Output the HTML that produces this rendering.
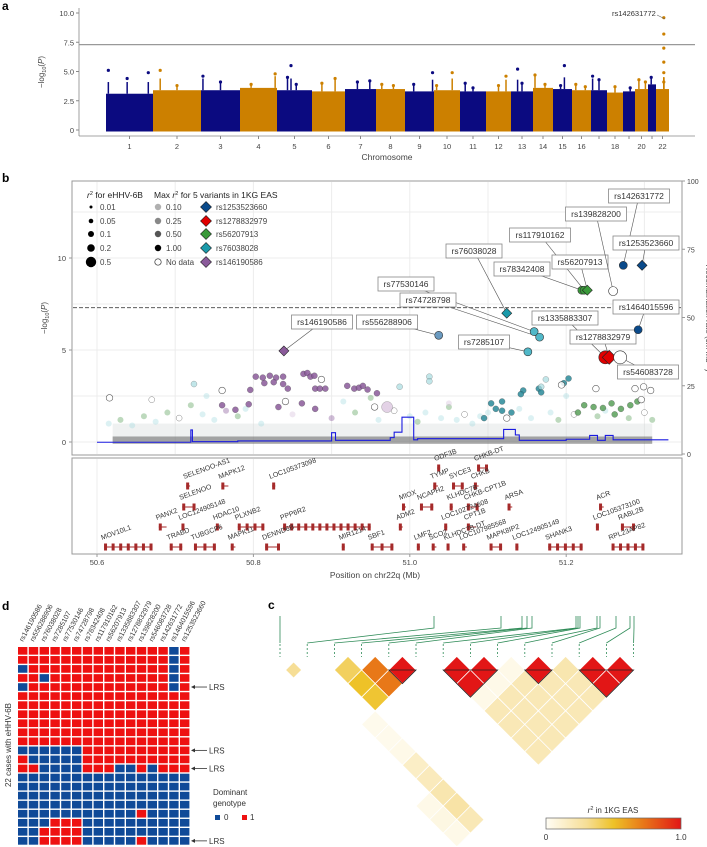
<!DOCTYPE html>
<html><head><meta charset="utf-8"><style>
html,body{margin:0;padding:0;background:#fff;}
svg{display:block;font-family:"Liberation Sans",sans-serif;}
</style></head><body>
<svg id="fig" width="707" height="847" viewBox="0 0 707 847" xmlns="http://www.w3.org/2000/svg"></svg>
<script>
// ---------- Panel a data ----------
const chrBounds = [106,153,201,240,277,312,345,376,405,434,460,486,511,533,553,572,591,607,623,635,648,656,669];
const chrLabels = ["1","2","3","4","5","6","7","8","9","10","11","12","13","14","15","16","","18","","20","","22"];
const chrBase = [3.1,3.4,3.4,3.6,3.4,3.3,3.5,3.5,3.3,3.4,3.3,3.3,3.3,3.6,3.5,3.4,3.4,3.2,3.3,3.5,3.9,3.5];
const chrPeakFrac = [[0.05,0.45,0.9],[0.15,0.5],[0.05,0.5],[0.3,0.95],[0.3,0.4,0.55],[0.3,0.7],[0.4,0.8],[0.2,0.6],[0.3,0.95],[0.1,0.7],[0.2,0.5],[0.8,0.5],[0.5,0.3],[0.1,0.6],[0.4,0.6],[0.2,0.7],[0.1,0.5],[0.5],[0.6],[0.3,0.8],[0.4],[0.6,0.6,0.6,0.6,0.6,0.6]];
const chrPeakVal = [[5.1,4.4,4.9],[5.1,3.8],[4.6,4.1],[3.9,4.8],[4.5,5.5,3.9],[4.0,4.4],[4.1,4.2],[3.9,3.8],[3.9,4.9],[3.8,4.9],[4.0,3.6],[4.6,3.8],[4.0,5.2],[4.7,3.9],[3.8,5.5],[3.9,3.7],[4.6,4.3],[3.7],[3.6],[4.3,4.1],[4.5],[9.6,8.2,7.0,5.8,4.9,4.1]];
const aTicks = [0,2.5,5,7.5,10];

// ---------- Panel b data ----------
const snpNames = ["rs146190586","rs556288906","rs76038028","rs77530146","rs74728798","rs7285107","rs78342408","rs117910162","rs56207913","rs139828200","rs142631772","rs1253523660","rs1464015596","rs1335883307","rs1278832979","rs546083728"];
const snpPos = [50.839,51.037,51.124,51.159,51.166,51.151,51.220,51.223,51.227,51.260,51.273,51.297,51.292,51.250,51.255,51.269];
const snpP = [4.95,5.8,7.0,6.0,5.7,4.9,8.25,8.25,8.25,8.2,9.6,9.6,6.1,4.6,4.6,4.6];
const snpShape = ["d","c","d","c","c","c","c","c","d","c","c","d","c","c","d","c"];
const snpColor = ["#8a5a9a","#6a9ac0","#1a9aaa","#50b8c8","#50b8c8","#50b8c8","#3a9a3a","#3a9a3a","#3a9a3a","none","#0a4a8a","#0a4a8a","#0a4a8a","#e00000","#e00000","none"];
const bgPos = [50.796,50.803,50.812,50.821,50.829,50.838,50.844,50.814,50.826,50.838,50.864,50.869,50.873,50.878,50.879,50.885,50.892,50.920,50.929,50.935,50.940,50.946,50.958,50.794,50.832,50.862,50.760,50.777,50.879,
 51.118,51.104,51.110,51.118,51.145,51.142,51.165,51.168,51.203,51.197,51.130,51.095,
 51.223,51.235,51.247,51.258,51.270,51.282,51.291,51.262,51.215,
 50.616,50.760,50.887,51.238,51.288,51.299,51.308,51.296,51.194,50.841,50.955,51.124,
 51.174,51.168,51.025,51.025,50.724,50.987,50.971];
const bgP = [2.83,3.55,3.5,3.6,3.5,3.55,2.9,3.2,3.25,3.15,3.7,3.75,3.55,3.6,2.9,2.9,2.9,3.05,2.9,2.95,3.05,2.85,2.65,2.05,1.9,2.1,2.0,1.75,1.8,
 2.2,2.1,1.8,1.7,2.8,2.6,2.9,2.7,3.45,3.2,1.6,1.3,
 2.0,1.9,1.85,2.1,1.8,2.0,2.2,1.5,1.6,
 2.4,2.8,3.4,2.9,2.9,3.0,2.8,2.3,3.1,2.2,1.9,1.3,
 3.4,3.0,3.55,3.3,3.15,3.0,1.9];
const bgCat = "pppppppppppppppppppppppppppppttttttttttttgggggggggoooooooooooollllllqq";
const paleMb = [50.615,50.63,50.645,50.66,50.675,50.69,50.705,50.72,50.735,50.75,50.765,50.78,50.79,50.85,50.9,50.915,50.93,50.96,50.98,51.0,51.01,51.02,51.04,51.05,51.06,51.07,51.08,51.09,51.1,51.14,51.155,51.18,51.19,51.21,51.24,51.25,51.28,51.3,51.31,50.67,50.74,50.81,50.95,51.05,51.2];
const paleP = [1.0,1.2,0.9,1.4,1.1,1.6,1.3,2.0,1.5,1.2,1.7,1.4,1.8,1.5,1.3,2.2,1.6,1.2,1.7,1.4,1.1,1.6,1.3,1.9,1.2,1.5,1.0,1.4,1.6,1.8,1.3,1.6,1.2,1.5,1.4,1.7,1.3,1.6,1.2,2.3,2.5,1.0,2.4,2.1,2.5];
const paleCat = "lglglgogllpglqplglolgllglollllllgoglgogollgqlllg";
const recPos = [50.6,50.72,50.722,50.78,50.90,50.905,50.975,50.98,50.99,51.005,51.01,51.12,51.135,51.14,51.20,51.23,51.24,51.25,51.26,51.33];
const recRate = [4.3,8.8,4.5,4.8,7.8,5.0,6.0,8.0,13.5,5.2,5.6,9.0,7.0,5.0,5.4,6.8,5.0,6.8,5.2,5.0];
const bLeftTicks = [0,5,10];
const bRightTicks = [0,25,50,75,100];
const geneTicks = [50.6,50.8,51.0,51.2];

// ---------- genes ----------
const geneNames = ["ODF3B","CHKB-DT","SELENOO-AS1","MAPK12","LOC105373098","TYMP","SYCE3","CHKB","SELENOO","MIOX","NCAPH2","KLHDC7B","CHKB-CPT1B","ARSA","ACR","PANX2","LOC124905148","HDAC10","PLXNB2","PPP6R2","ADM2","LOC102724608","CPT1B","LOC105373100","RABL2B","MOV10L1","TRABD","TUBGCP6","MAPK11","DENND6B","MIR1214","SBF1","LMF2","SCO2","KLHDC7B-DT","LOC107985568","MAPK8IP2","LOC124905149","SHANK3","RPL23AP82"];
const geneStart = [51.035,51.086,50.714,50.759,50.824,51.030,51.054,51.082,50.709,50.990,51.013,51.051,51.073,51.125,51.242,50.679,50.708,50.752,50.780,50.838,50.986,51.044,51.073,51.238,51.270,50.609,50.693,50.724,50.771,50.815,50.913,50.950,51.009,51.028,51.047,51.067,51.102,51.135,51.177,51.258];
const geneEnd = [51.038,51.100,50.719,50.768,50.828,51.036,51.069,51.088,50.726,50.995,51.030,51.055,51.088,51.131,51.248,50.689,50.710,50.759,50.814,50.950,50.991,51.047,51.085,51.241,51.288,50.671,50.709,50.752,50.777,50.834,50.916,50.979,51.013,51.034,51.050,51.073,51.118,51.139,51.221,51.300];
const geneRow = [0,0,1,1,1,1,1,1,2,2,2,2,2,2,2,3,3,3,3,3,3,3,3,3,3,4,4,4,4,4,4,4,4,4,4,4,4,4,4,4];

// ---------- Panel d data ----------
const dCols = ["rs146190586","rs556288906","rs76038028","rs7285107","rs77530146","rs74728798","rs78342408","rs117910162","rs56207913","rs1335883307","rs1278832979","rs139828200","rs546083728","rs142631772","rs1464015596","rs1253523660"];
const dRows = ["1111111111111101","1111111111111101","0111111111111101","1101111111111101","0111111111111101","1111111111111111","1111111111111111","1111111111111111","1111111111111111","1111111111111111","1111111111111111","0000001111111111","1000001111111111","1100001110010111","0000000000000000","0000000000000000","0000000000000000","0000000000000000","0000000000010000","0001110000000000","0011110000000000","0011110000010000"];
const lrsRows = [4,11,13,21];

// ---------- Panel c data ----------
const ldI = [0,2,3,4,2,3,2,6,7,6,9,11,12,11,10,1,1,1,1,1,1,1,1,0,0,0];
const ldJ = [1,3,4,5,4,5,5,7,8,8,10,12,13,13,11,6,7,8,9,10,11,12,13,11,12,13];
const ldR = [0.3,0.4,0.72,1.0,0.5,0.72,0.48,1.0,1.0,1.0,1.0,1.0,1.0,1.0,0.22,0.03,0.03,0.04,0.15,0.18,0.22,0.25,0.2,0.04,0.06,0.04];
const ldTop = [280,434,501,522,527,532,576,578,580,597,600,616,630,634];

// ---------- helpers ----------
const NS="http://www.w3.org/2000/svg";
const svg=document.getElementById('fig');
function mk(tag,attrs,parent){const e=document.createElementNS(NS,tag);for(const k in attrs)e.setAttribute(k,attrs[k]);(parent||svg).appendChild(e);return e;}
function txt(s,x,y,size,attrs,parent){const t=mk('text',Object.assign({x:x,y:y,'font-size':size,fill:'#222'},attrs||{}),parent);t.textContent=s;return t;}
function grp(name){const g=mk('g',{});return g;}

[["a",2,10],["b",2,182],["c",268,609],["d",2,610]].forEach(p=>{const t=txt(p[0],p[1],p[2],12,{'font-weight':'bold',fill:'#000'});});

// ===== Panel a =====
const ga=grp('manhattan-plot');
const ym=v=>130-v*11.7;
mk('line',{x1:79,y1:8,x2:79,y2:136,stroke:'#888','stroke-width':0.8},ga);
mk('line',{x1:79,y1:136,x2:695,y2:136,stroke:'#888','stroke-width':0.8},ga);
aTicks.forEach(v=>{mk('line',{x1:76,x2:79,y1:ym(v),y2:ym(v),stroke:'#888'},ga);const t=txt(v===0?"0":v.toFixed(1),74,ym(v)+3,7.5,{'text-anchor':'end',fill:'#444'},ga);});
const yla=txt("",0,0,8,{transform:'translate(44,72) rotate(-90)','text-anchor':'middle',fill:'#444'},ga);
yla.innerHTML='−log<tspan font-size="5.5" dy="2">10</tspan><tspan dy="-2">(</tspan><tspan font-style="italic">P</tspan>)';

const thr=mk('line',{x1:79,x2:695,y1:ym(7.3),y2:ym(7.3),stroke:'#999','stroke-width':1.2},ga);

for(let c=0;c<22;c++){
  const x0=chrBounds[c],x1=chrBounds[c+1],col=c%2===0?'#0b0a80':'#cc8000';
  const r=mk('rect',{x:x0,y:ym(chrBase[c]),width:x1-x0,height:ym(0)-ym(chrBase[c])+1.5,fill:col},ga);
  
  chrPeakFrac[c].forEach((f,k)=>{const px=x0+f*(x1-x0),v=chrPeakVal[c][k];
    mk('line',{x1:px,x2:px,y1:ym(chrBase[c]),y2:ym(Math.min(v,chrBase[c]+1)),stroke:col,'stroke-width':1.5},ga);
    const d=mk('circle',{cx:px,cy:ym(v),r:1.6,fill:col},ga);});
  const cx=(x0+x1)/2;
  mk('line',{x1:cx,x2:cx,y1:136,y2:139,stroke:'#888'},ga);
  if(chrLabels[c]){const t=txt(chrLabels[c],cx,149,7.5,{'text-anchor':'middle',fill:'#444'},ga);}
}
const xla=txt("Chromosome",387,160,8.5,{'text-anchor':'middle',fill:'#444'},ga);
const la=txt("rs142631772",612,16,7.5,{fill:'#333'},ga);
mk('line',{x1:657,y1:15,x2:665,y2:19,stroke:'#666','stroke-width':0.6},ga);

// ===== Panel b =====
const gb=grp('regional-association-plot');
const xb=m=>97+(m-50.6)*782, yb=v=>442-v*18.4, yr=r=>454-r*2.73;
mk('rect',{x:72,y:181,width:610,height:274,fill:'none',stroke:'#999','stroke-width':1},gb);
for(let m=50.6;m<=51.31;m+=0.1){mk('line',{x1:xb(m),x2:xb(m),y1:182,y2:454,stroke:'#ececec','stroke-width':1},gb);}
for(let v=0;v<=12.5;v+=2.5){mk('line',{x1:73,x2:681,y1:yb(v),y2:yb(v),stroke:'#ececec','stroke-width':1},gb);}
bLeftTicks.forEach(v=>{mk('line',{x1:69,x2:72,y1:yb(v),y2:yb(v),stroke:'#999'},gb);const t=txt(String(v),66,yb(v)+3,7.5,{'text-anchor':'end',fill:'#444'},gb);});
bRightTicks.forEach(v=>{mk('line',{x1:682,x2:685,y1:yr(v),y2:yr(v),stroke:'#999'},gb);const t=txt(String(v),687,yr(v)+3,7,{fill:'#444'},gb);});
const ylb=txt("",0,0,8,{transform:'translate(47,318) rotate(-90)','text-anchor':'middle',fill:'#444'},gb);
ylb.innerHTML='−log<tspan font-size="5.5" dy="2">10</tspan><tspan dy="-2">(</tspan><tspan font-style="italic">P</tspan>)';

const yrb=txt("",0,0,8,{transform:'translate(706,318) rotate(90)','text-anchor':'middle',fill:'#444'},gb);
yrb.innerHTML='Recombination rate (cM Mb<tspan font-size="5.5" dy="-3">−1</tspan><tspan dy="3">)</tspan>';

mk('rect',{x:xb(50.62),y:yb(1.0),width:xb(51.31)-xb(50.62),height:yb(0)-yb(1.0),fill:'#d6dcdc',opacity:0.4},gb);
mk('rect',{x:xb(50.62),y:yb(0.3),width:xb(51.31)-xb(50.62),height:yb(-0.1)-yb(0.3),fill:'#555',opacity:0.5},gb);
const catCol={p:'#8a5a9a',t:'#2a8a9a',g:'#5aa05a',o:'#fff',l:'#a8dce0',q:'#d8c0dc'};
paleMb.forEach((m,i)=>{const c=paleCat[i]||'l';
  const e=mk('circle',{cx:xb(m),cy:yb(paleP[i]),r:3,fill:catCol[c],stroke:c==='o'?'#666':'none','stroke-width':0.5,opacity:c==='o'?0.8:0.4},gb);
  });
bgPos.forEach((m,i)=>{const c=bgCat[i];
  const e=mk('circle',{cx:xb(m),cy:yb(bgP[i]),r:c==='q'?5.5:(c==='o'?3.3:3),fill:catCol[c],stroke:c==='o'?'#444':'#333','stroke-width':c==='o'?0.6:0.3,opacity:(c==='l'||c==='q')?0.7:0.85},gb);
  });
let d="";recPos.forEach((m,i)=>{d+=(i?"H"+xb(m)+"V"+yr(recRate[i]):"M"+xb(m)+" "+yr(recRate[i]));});
const rl=mk('path',{d:d,fill:'none',stroke:'#1a1ae0','stroke-width':1.1},gb);
const dl=mk('line',{x1:73,x2:681,y1:yb(7.3),y2:yb(7.3),stroke:'#444','stroke-dasharray':'4,2','stroke-width':0.9},gb);
const labelXY={rs146190586:[322,322],rs556288906:[387,322],rs76038028:[474,251],rs77530146:[406,284],rs74728798:[428,300],rs7285107:[484,342],rs78342408:[522,269],rs117910162:[540,235],rs56207913:[580,262],rs139828200:[596,214],rs142631772:[639,196],rs1253523660:[646,243],rs1464015596:[646,307],rs1335883307:[565,318],rs1278832979:[603,337],rs546083728:[648,372]};
snpNames.forEach((n,i)=>{const px=xb(snpPos[i]),py=yb(snpP[i]);const L=labelXY[n];const w=n.length*5+6;
  mk('line',{x1:L[0],y1:L[1],x2:px,y2:py,stroke:'#555','stroke-width':0.6},gb);
  const b=mk('rect',{x:L[0]-w/2,y:L[1]-7,width:w,height:14,fill:'#fff',stroke:'#888','stroke-width':0.8},gb);
  
  txt(n,L[0],L[1]+3,8.5,{'text-anchor':'middle',fill:'#333'},gb);
});
snpNames.forEach((n,i)=>{const px=xb(snpPos[i]),py=yb(snpP[i]);const big=snpColor[i]==='#e00000'||n==='rs546083728';const s=big?7:5;
  let e;
  if(snpShape[i]==='d') e=mk('polygon',{points:`${px},${py-s} ${px+s},${py} ${px},${py+s} ${px-s},${py}`,fill:snpColor[i],stroke:'#222','stroke-width':0.6},gb);
  else e=mk('circle',{cx:px,cy:py,r:big?6.5:(snpColor[i]==='none'?4.5:4),fill:snpColor[i]==='none'?'#fff':snpColor[i],stroke:'#333','stroke-width':0.6},gb);
  
});
const lg=grp('legend');
txt("",87,198,8.5,{},lg).innerHTML='<tspan font-style="italic">r</tspan><tspan font-size="5.5" dy="-3">2</tspan><tspan dy="3"> for eHHV-6B</tspan>';
txt("",154,198,8.5,{},lg).innerHTML='Max <tspan font-style="italic">r</tspan><tspan font-size="5.5" dy="-3">2</tspan><tspan dy="3"> for 5 variants in 1KG EAS</tspan>';
const lgY=[207,221,234,248,262];
[["0.01",1.5],["0.05",2.3],["0.1",3],["0.2",3.8],["0.5",5.2]].forEach((e,k)=>{mk('circle',{cx:91,cy:lgY[k],r:e[1],fill:'#000'},lg);txt(e[0],100,lgY[k]+3,8,{fill:'#444'},lg);});
[["0.10","#b0b0b0"],["0.25","#888"],["0.50","#555"],["1.00","#000"],["No data","none"]].forEach((e,k)=>{mk('circle',{cx:158,cy:lgY[k],r:3.2,fill:e[1]==='none'?'#fff':e[1],stroke:e[1]==='none'?'#333':'none','stroke-width':0.7},lg);txt(e[0],166,lgY[k]+3,8,{fill:'#444'},lg);});
[["rs1253523660","#0a4a8a"],["rs1278832979","#e00000"],["rs56207913","#3a9a3a"],["rs76038028","#1a9aaa"],["rs146190586","#8a5a9a"]].forEach((e,k)=>{const y=lgY[k];mk('polygon',{points:`206,${y-5.5} 211.5,${y} 206,${y+5.5} 200.5,${y}`,fill:e[1],stroke:'#222','stroke-width':0.6},lg);txt(e[0],216,y+3,8,{fill:'#444'},lg);});

// ===== Genes =====
const gg=grp('gene-track');
mk('rect',{x:72,y:458,width:610,height:96,fill:'none',stroke:'#999','stroke-width':1},gg);
geneTicks.forEach(m=>{mk('line',{x1:xb(m),x2:xb(m),y1:459,y2:553,stroke:'#ececec'},gg);mk('line',{x1:xb(m),x2:xb(m),y1:554,y2:557,stroke:'#999'},gg);const t=txt(m.toFixed(1),xb(m),565,7.5,{'text-anchor':'middle',fill:'#444'},gg);});
const gx=txt("Position on chr22q (Mb)",375,578,8.5,{'text-anchor':'middle',fill:'#444'},gg);
const rowY=[468,486,507,527,547];
geneNames.forEach((n,i)=>{const x0=xb(geneStart[i]),x1=Math.max(xb(geneEnd[i]),x0+3),y=rowY[geneRow[i]];
  const g=mk('g',{},gg);
  mk('line',{x1:x0,x2:x1,y1:y,y2:y,stroke:'#a52a2a','stroke-width':1},g);
  const w=x1-x0; const nb=Math.max(1,Math.round(w/7));
  for(let k=0;k<nb;k++){const bx=x0+(nb===1?0:k*(w-3)/(nb-1));mk('rect',{x:bx,y:y-3.5,width:3,height:7,fill:'#a52a2a'},g);}
  txt(n,x0-2,y-7,7,{transform:`rotate(-20 ${x0-2} ${y-7})`,fill:'#333'},g);
});

// ===== Panel d =====
const gd=grp('genotype-heatmap');
const dx0=18,dsx=10.8,dy0=647,dsy=9.05;
dCols.forEach((n,j)=>{const x=dx0+j*dsx+5,y=dy0-5;const t=txt(n,x,y,7,{transform:`rotate(-62 ${x} ${y})`,fill:'#333'},gd);});
dRows.forEach((row,i)=>{for(let j=0;j<row.length;j++){const c=mk('rect',{x:dx0+j*dsx,y:dy0+i*dsy,width:dsx-1.4,height:dsy-1.4,fill:row[j]==='1'?'#ee1111':'#104a98'},gd);}});
lrsRows.forEach(r=>{const y=dy0+r*dsy+dsy/2-0.7;mk('line',{x1:207,x2:194,y1:y,y2:y,stroke:'#333','stroke-width':0.8},gd);mk('polygon',{points:`191,${y} 195,${y-2} 195,${y+2}`,fill:'#333'},gd);const t=txt("LRS",209,y+3,8,{fill:'#333'},gd);});
const dyl=txt("22 cases with eHHV-6B",0,0,8,{transform:'translate(11,745) rotate(-90)','text-anchor':'middle',fill:'#333'},gd);
txt("Dominant",213,795,8,{fill:'#333'},gd);txt("genotype",213,806,8,{fill:'#333'},gd);
mk('rect',{x:215,y:815,width:5,height:5,fill:'#104a98'},gd);txt("0",224,820,8,{fill:'#333'},gd);
mk('rect',{x:242,y:815,width:5,height:5,fill:'#ee1111'},gd);txt("1",250,820,8,{fill:'#333'},gd);

// ===== Panel c =====
const gc=grp('ld-heatmap');
const cx0=280,cstep=27.2,cy0=670,ch=13.6;
function ldColor(r){const stops=[[0,[255,253,245]],[0.3,[246,222,150]],[0.5,[238,194,40]],[0.72,[232,120,24]],[1,[226,22,22]]];
  for(let k=1;k<stops.length;k++){if(r<=stops[k][0]){const a=stops[k-1],b=stops[k],t=(r-a[0])/(b[0]-a[0]);return 'rgb('+a[1].map((v,q)=>Math.round(v+(b[1][q]-v)*t)).join(',')+')';}}return 'rgb(226,22,22)';}
for(let i=6;i<13;i++)for(let j=i+1;j<=13;j++){const cx=cx0+(i+j)/2*cstep,cy=cy0+(j-i-1)*ch;const r=j>=10&&i>=6?0.2:0.04;
  const e=mk('polygon',{points:`${cx},${cy-ch} ${cx+ch},${cy} ${cx},${cy+ch} ${cx-ch},${cy}`,fill:ldColor(r),stroke:'#fff','stroke-width':0.8},gc);}
ldI.forEach((i,k)=>{const j=ldJ[k];const cx=cx0+(i+j)/2*cstep,cy=cy0+(j-i-1)*ch;const s=(i===0&&j===1)?8:ch;
  const e=mk('polygon',{points:`${cx},${cy-s} ${cx+s},${cy} ${cx},${cy+s} ${cx-s},${cy}`,fill:ldColor(ldR[k]),stroke:'#fff','stroke-width':0.8},gc);});
[[4,5],[6,8],[9,10],[11,13]].forEach(b=>{const xa=cx0+b[0]*cstep,xbb=cx0+b[1]*cstep,xm=(xa+xbb)/2,ybot=cy0+(xbb-xa)/2;
  mk('polygon',{points:`${xa},${cy0} ${xbb},${cy0} ${xm},${ybot}`,fill:'none',stroke:'#222','stroke-width':0.8},gc);});
ldTop.forEach((t,k)=>{const bx=cx0+k*cstep;
  mk('path',{d:`M${t},616 V${k===0?643:628} L${bx},${643}`,fill:'none',stroke:'#2e8b57','stroke-width':0.8},gc);
  mk('line',{x1:bx,x2:bx,y1:644,y2:657,stroke:'#2e8b57','stroke-width':0.8,'stroke-dasharray':'2,2'},gc);});
const defs=mk('defs',{});const lgrad=mk('linearGradient',{id:'cb',x1:0,x2:1,y1:0,y2:0},defs);
[[0,'#fffdf5'],[0.3,'#f6de96'],[0.5,'#eec228'],[0.72,'#e87818'],[1,'#e21616']].forEach(s=>mk('stop',{offset:s[0],'stop-color':s[1]},lgrad));
const cb=mk('rect',{x:546,y:818,width:135,height:11,fill:'url(#cb)',stroke:'#666','stroke-width':0.7},gc);
txt("",613,813,8,{'text-anchor':'middle',fill:'#333'},gc).innerHTML='<tspan font-style="italic">r</tspan><tspan font-size="5.5" dy="-3">2</tspan><tspan dy="3"> in 1KG EAS</tspan>';
txt("0",546,840,8,{'text-anchor':'middle',fill:'#333'},gc);txt("1.0",681,840,8,{'text-anchor':'middle',fill:'#333'},gc);
</script>
</body></html>
